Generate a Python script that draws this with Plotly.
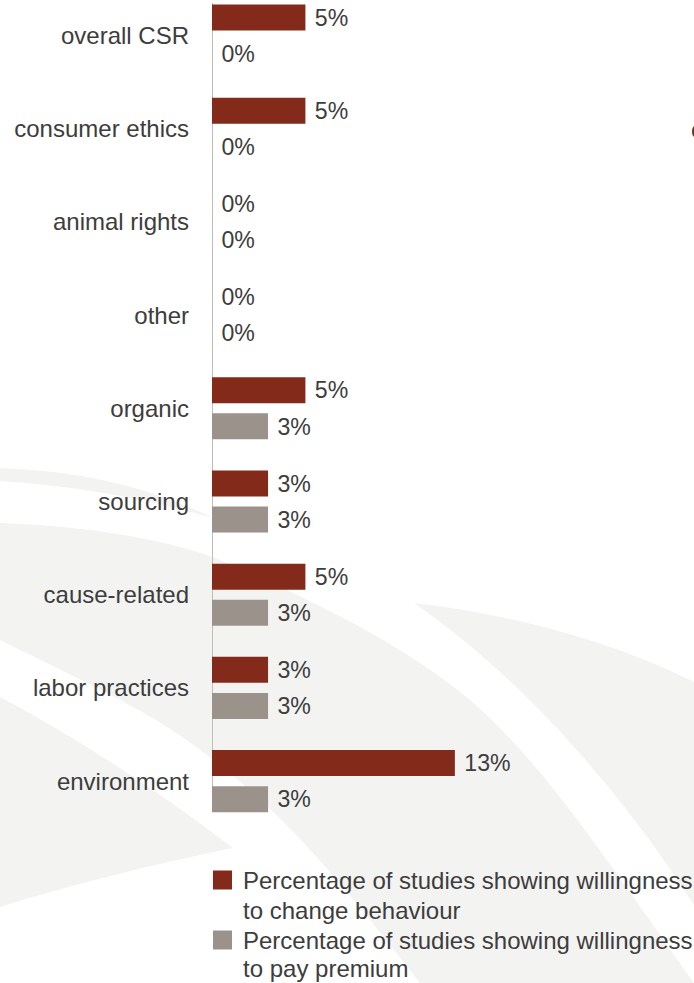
import plotly.graph_objects as go

# ---------------- data ----------------
categories = ["overall CSR", "consumer ethics", "animal rights", "other", "organic",
              "sourcing", "cause-related", "labor practices", "environment"]
change_behaviour = [5, 5, 0, 0, 5, 3, 5, 3, 13]
pay_premium = [0, 0, 0, 0, 3, 3, 3, 3, 3]
series_names = ["Percentage of studies showing willingness<br>to change behaviour",
                "Percentage of studies showing willingness<br>to pay premium"]

# ---------------- style ----------------
RED = "#832a1b"
GREY = "#9b928c"
TXT = "#3d3d3d"
BG = "#f3f3f2"
FONT = "Liberation Sans, Arial, sans-serif"

W, H = 694, 983
ML, MR, MT, MB = 212, 0, 0, 153
PW, PH = W - ML - MR, H - MT - MB

idx = list(range(len(categories)))

fig = go.Figure()
fig.add_trace(go.Bar(
    y=idx, x=change_behaviour, orientation="h", width=0.279, offset=-0.333,
    name=series_names[0],
    marker=dict(color=RED, line=dict(width=0)),
    texttemplate="\u00a0%{x}%", textposition="outside", cliponaxis=False,
    textfont=dict(size=24, color=TXT, family=FONT), showlegend=False,
))
fig.add_trace(go.Bar(
    y=idx, x=pay_premium, orientation="h", width=0.279, offset=0.054,
    name=series_names[1],
    marker=dict(color=GREY, line=dict(width=0)),
    texttemplate="\u00a0%{x}%", textposition="outside", cliponaxis=False,
    textfont=dict(size=24, color=TXT, family=FONT), showlegend=False,
))


def px2paper(x, y):
    return (x - ML) / PW, (MT + PH - y) / PH


def path(cmds):
    out = []
    for c in cmds:
        if isinstance(c, str):
            out.append(c)
        else:
            xp, yp = px2paper(*c)
            out.append(f"{xp:.4f},{yp:.4f}")
    return " ".join(out)


bg_shapes = [
    (BG, ["M", (0, 523), "Q", (130, 528), (213, 557), "C", (290, 590), (400, 640), (470, 700),
          "C", (540, 760), (600, 850), (694, 983), "L", (0, 983), "Z"]),
    ("white", ["M", (0, 640), "C", (80, 680), (160, 715), (213, 760), "C", (280, 810), (340, 880),
               (420, 983), "L", (0, 983), "Z"]),
    (BG, ["M", (0, 697), "C", (90, 745), (170, 800), (233, 848), "C", (150, 865), (70, 885),
          (0, 907), "Z"]),
    (BG, ["M", (0, 468), "Q", (120, 472), (213, 518), "Q", (110, 488), (0, 481), "Z"]),
    (BG, ["M", (414, 603), "C", (520, 615), (620, 645), (694, 682), "L", (694, 905),
          "C", (640, 820), (540, 690), (414, 603), "Z"]),
]
shapes = []
for col, cmds in bg_shapes:
    shapes.append(dict(type="path", xref="paper", yref="paper", path=path(cmds),
                       fillcolor=col, line=dict(width=0), layer="below"))
# vertical axis line
shapes.append(dict(type="line", xref="x", yref="y", x0=0, x1=0, y0=-0.35, y1=8.06,
                   line=dict(color="#c3bdb8", width=2), layer="below"))

# manual legend (square swatches + two-line labels)
annotations = []
legend_rows = [(880, 910), (940, 968)]
for (y1, y2), name, col in zip(legend_rows, series_names, [RED, GREY]):
    x0, ya = px2paper(213, y1 - 9.5)
    x1, yb = px2paper(232, y1 + 9.5)
    shapes.append(dict(type="rect", xref="paper", yref="paper", x0=x0, x1=x1, y0=yb, y1=ya,
                       fillcolor=col, line=dict(width=0)))
    for line_text, yy in zip(name.split("<br>"), (y1, y2)):
        xp, yp = px2paper(241, yy)
        annotations.append(dict(text=line_text, xref="paper", yref="paper", x=xp, y=yp,
                                xanchor="left", yanchor="middle", showarrow=False,
                                font=dict(size=24, color=TXT, family=FONT)))

# clipped glyph from neighbouring content at the right edge
xp, yp = px2paper(689, 130)
annotations.append(dict(text="c", xref="paper", yref="paper", x=xp, y=yp,
                        xanchor="left", yanchor="middle", showarrow=False,
                        font=dict(size=24, color=TXT, family=FONT)))

ppu = 93.2
top = -35.5 / ppu
bottom = top + PH / ppu

fig.update_layout(
    width=W, height=H,
    margin=dict(l=ML, r=MR, t=MT, b=MB, pad=0),
    paper_bgcolor="white", plot_bgcolor="rgba(0,0,0,0)",
    barmode="overlay",
    showlegend=False,
    hovermode=False,
    font=dict(family=FONT, size=24, color=TXT),
    xaxis=dict(range=[0, 25.8], visible=False, fixedrange=True),
    yaxis=dict(range=[bottom, top], tickvals=idx, ticktext=categories, showgrid=False,
               zeroline=False, showline=False, ticks="", ticklabelstandoff=22,
               fixedrange=True, tickfont=dict(size=24, color=TXT, family=FONT)),
    shapes=shapes,
    annotations=annotations,
)

fig.write_html("out.html", config={"displayModeBar": False},
               post_script="document.body.style.margin='0';document.body.style.overflow='hidden';")
